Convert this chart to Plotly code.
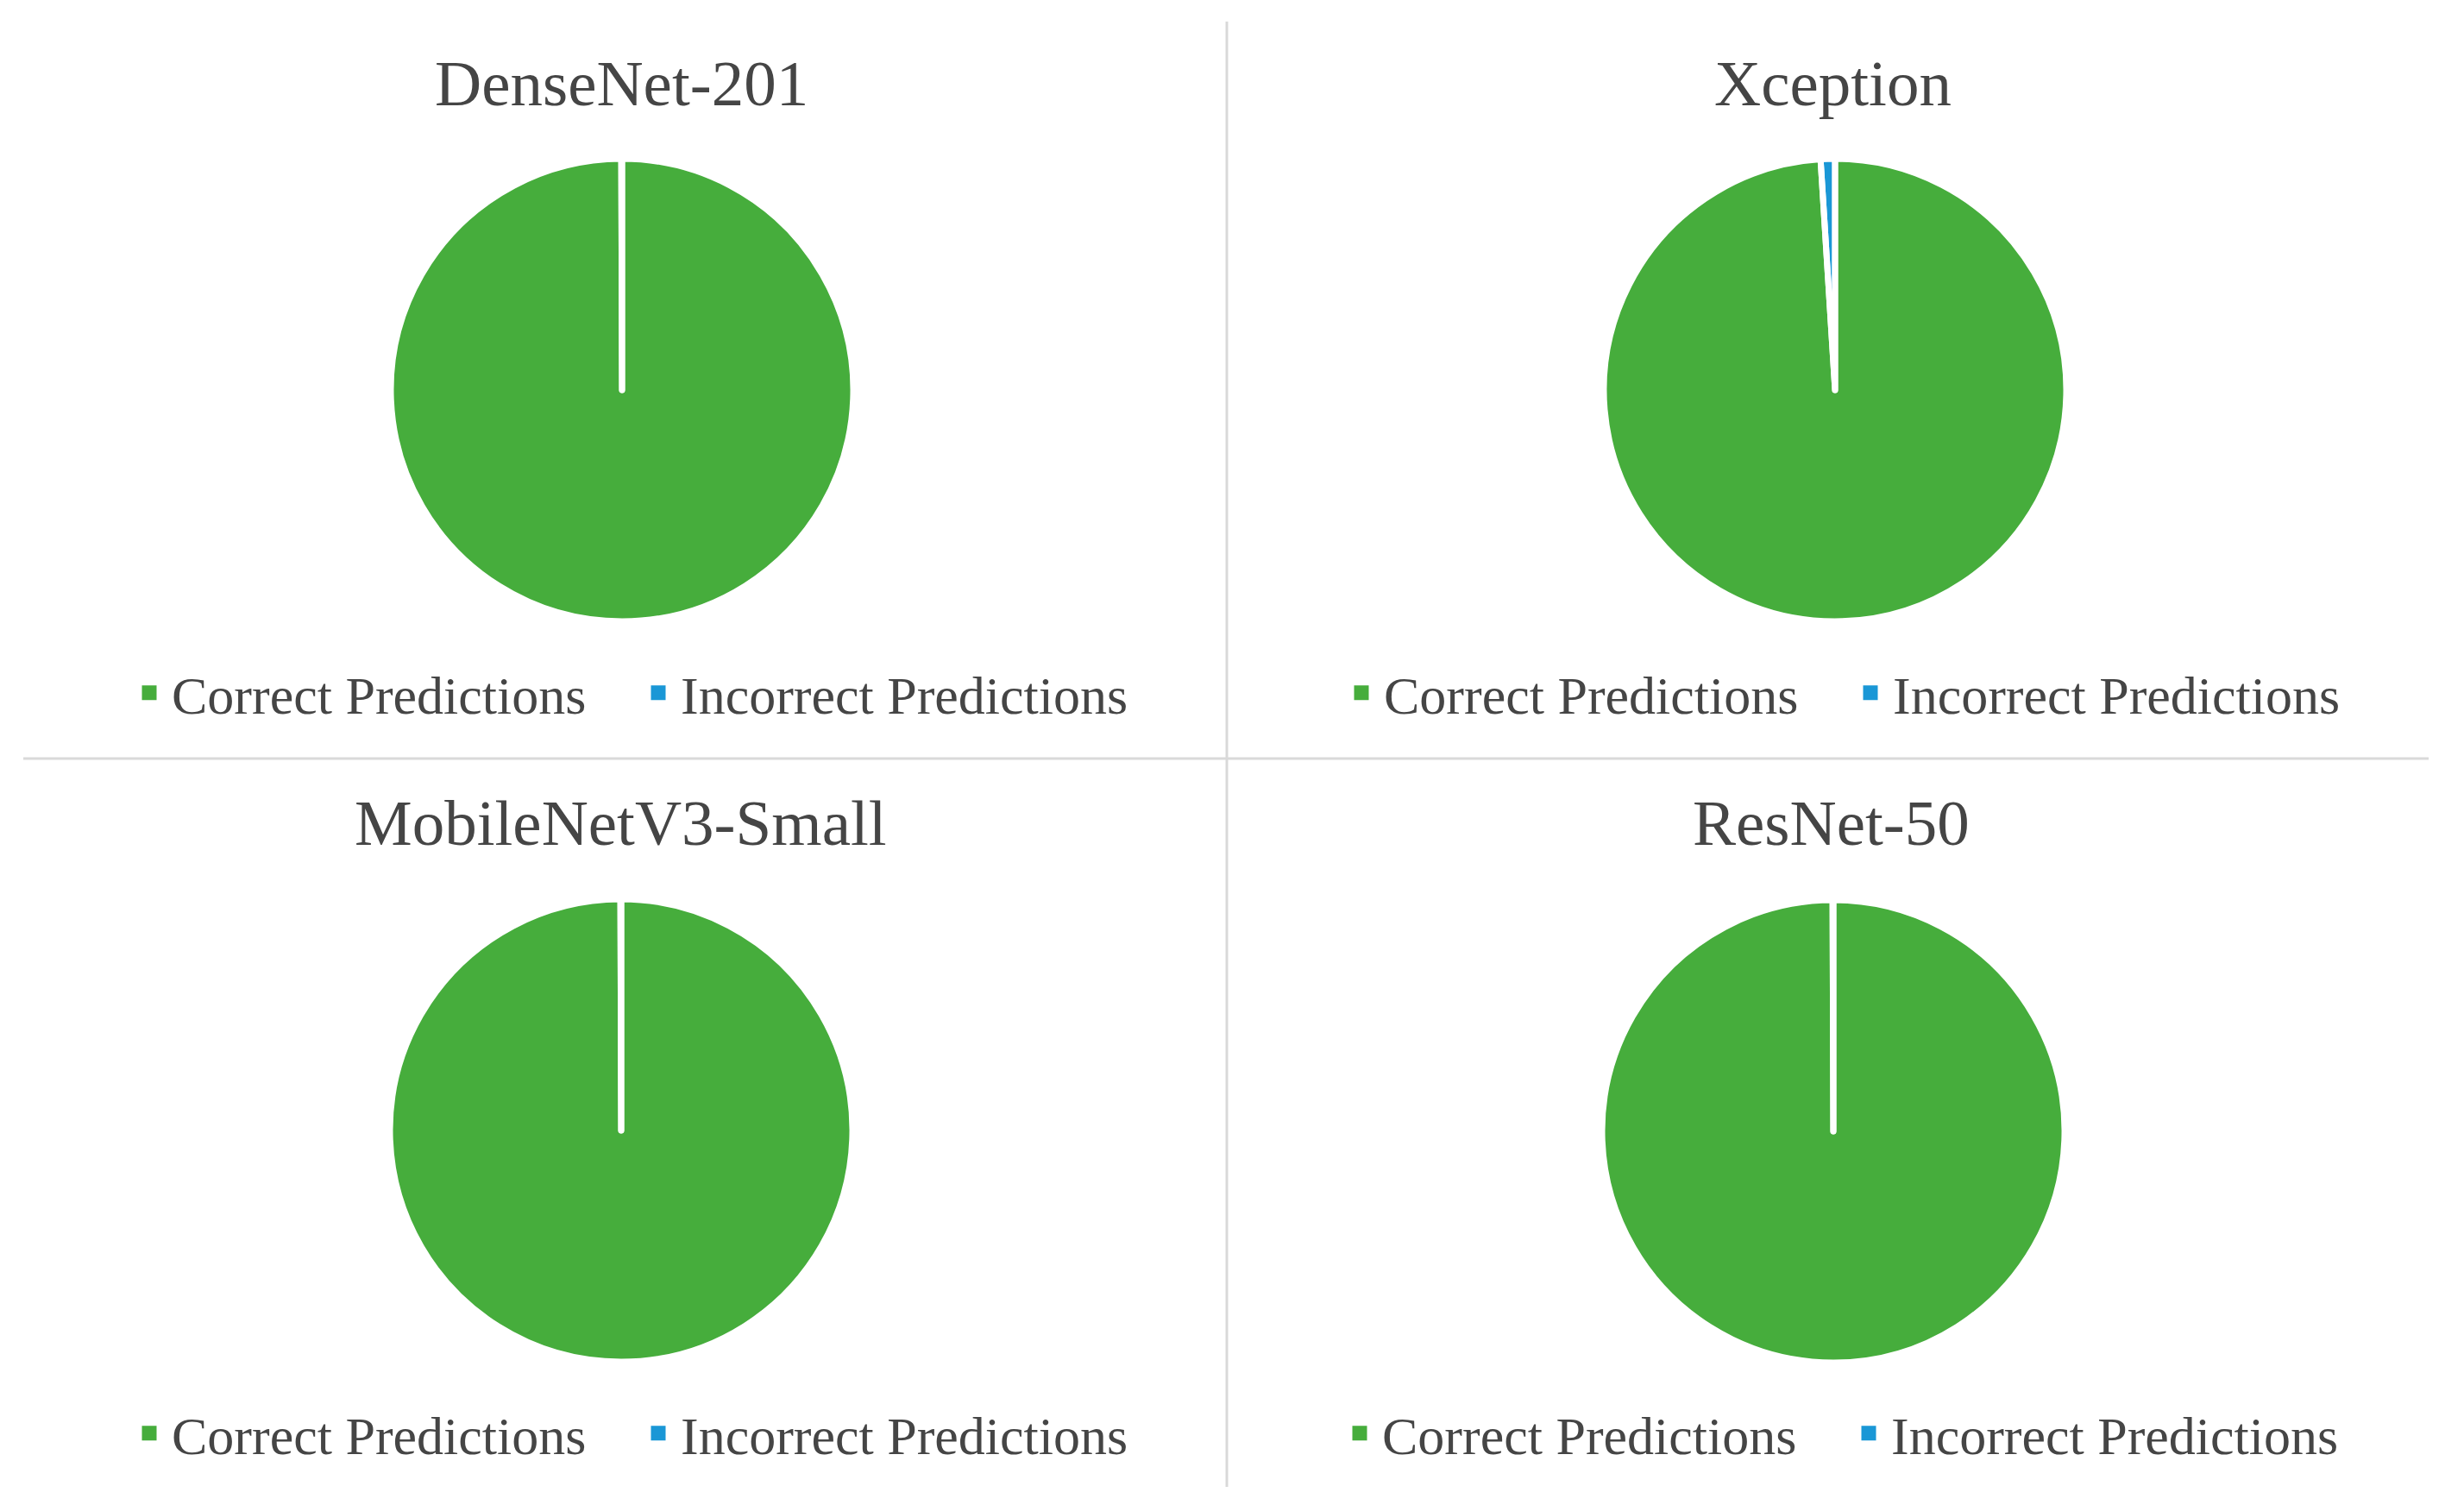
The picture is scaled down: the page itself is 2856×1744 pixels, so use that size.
import plotly.graph_objects as go

# ---- data ----
models = ["DenseNet-201", "Xception", "MobileNetV3-Small", "ResNet-50"]
labels = ["Correct Predictions", "Incorrect Predictions"]
correct_pct = [99.95, 99.0, 99.95, 99.95]
incorrect_pct = [0.05, 1.0, 0.05, 0.05]

colors = ["#46AD3C", "#1A97D6"]
W, H = 2856, 1744
FONT = "Liberation Serif, Times New Roman, serif"
TXT = "#454545"

def px(x):
    return x / W

def py(y):
    return 1 - y / H

# layout (pixel) positions for each panel
centers = [(721, 452), (2127, 452), (720, 1310), (2125, 1311)]
R = 268
title_pos = [(720, 96), (2124, 96), (719, 953), (2122, 953)]
legend_pos = [(147, 803), (1552, 803), (147, 1661), (1550, 1661)]
legend_names = ["legend", "legend2", "legend3", "legend4"]

fig = go.Figure()
for i, m in enumerate(models):
    cx, cy = centers[i]
    dom = dict(x=[px(cx - R), px(cx + R)], y=[py(cy + R), py(cy - R)])
    # each chart keeps its own legend: labels made unique with zero-width spaces
    lab = [l + "\u200b" * i for l in labels]
    vals = [correct_pct[i], incorrect_pct[i]]
    fig.add_trace(go.Pie(
        labels=lab, values=vals, name=m,
        sort=False, direction="clockwise", rotation=0,
        textinfo="none",
        marker=dict(colors=colors, line=dict(color=colors, width=5)),
        domain=dom, legend=legend_names[i], showlegend=True,
    ))
    # white separators drawn on top
    fig.add_trace(go.Pie(
        labels=lab, values=vals, name=m,
        sort=False, direction="clockwise", rotation=0,
        textinfo="none", hoverinfo="skip",
        marker=dict(colors=["rgba(0,0,0,0)"] * 2, line=dict(color="white", width=7)),
        domain=dom, legend=legend_names[i], showlegend=False,
    ))

annotations = []
for i, m in enumerate(models):
    tx, ty = title_pos[i]
    annotations.append(dict(
        text=m, x=px(tx), y=py(ty), xref="paper", yref="paper",
        xanchor="center", yanchor="middle", showarrow=False,
        font=dict(family=FONT, size=75, color=TXT),
    ))

shapes = [
    dict(type="line", xref="paper", yref="paper", x0=px(27), x1=px(2815), y0=py(879), y1=py(879),
         line=dict(color="#D9D9D9", width=3)),
    dict(type="line", xref="paper", yref="paper", x0=px(1422), x1=px(1422), y0=py(25), y1=py(1723),
         line=dict(color="#D9D9D9", width=3)),
]

layout_kwargs = dict(
    width=W, height=H,
    margin=dict(l=0, r=0, t=0, b=0),
    paper_bgcolor="white", plot_bgcolor="white",
    annotations=annotations, shapes=shapes,
)
for i, ln in enumerate(legend_names):
    lx, ly = legend_pos[i]
    layout_kwargs[ln] = dict(
        orientation="h", x=px(lx), y=py(ly), xanchor="left", yanchor="middle",
        font=dict(family=FONT, size=62, color=TXT),
        itemwidth=42, entrywidth=533, bgcolor="rgba(0,0,0,0)",
    )
fig.update_layout(**layout_kwargs)

fig.write_html("out.html", config={"displayModeBar": False},
               post_script="document.body.style.margin='0';")
